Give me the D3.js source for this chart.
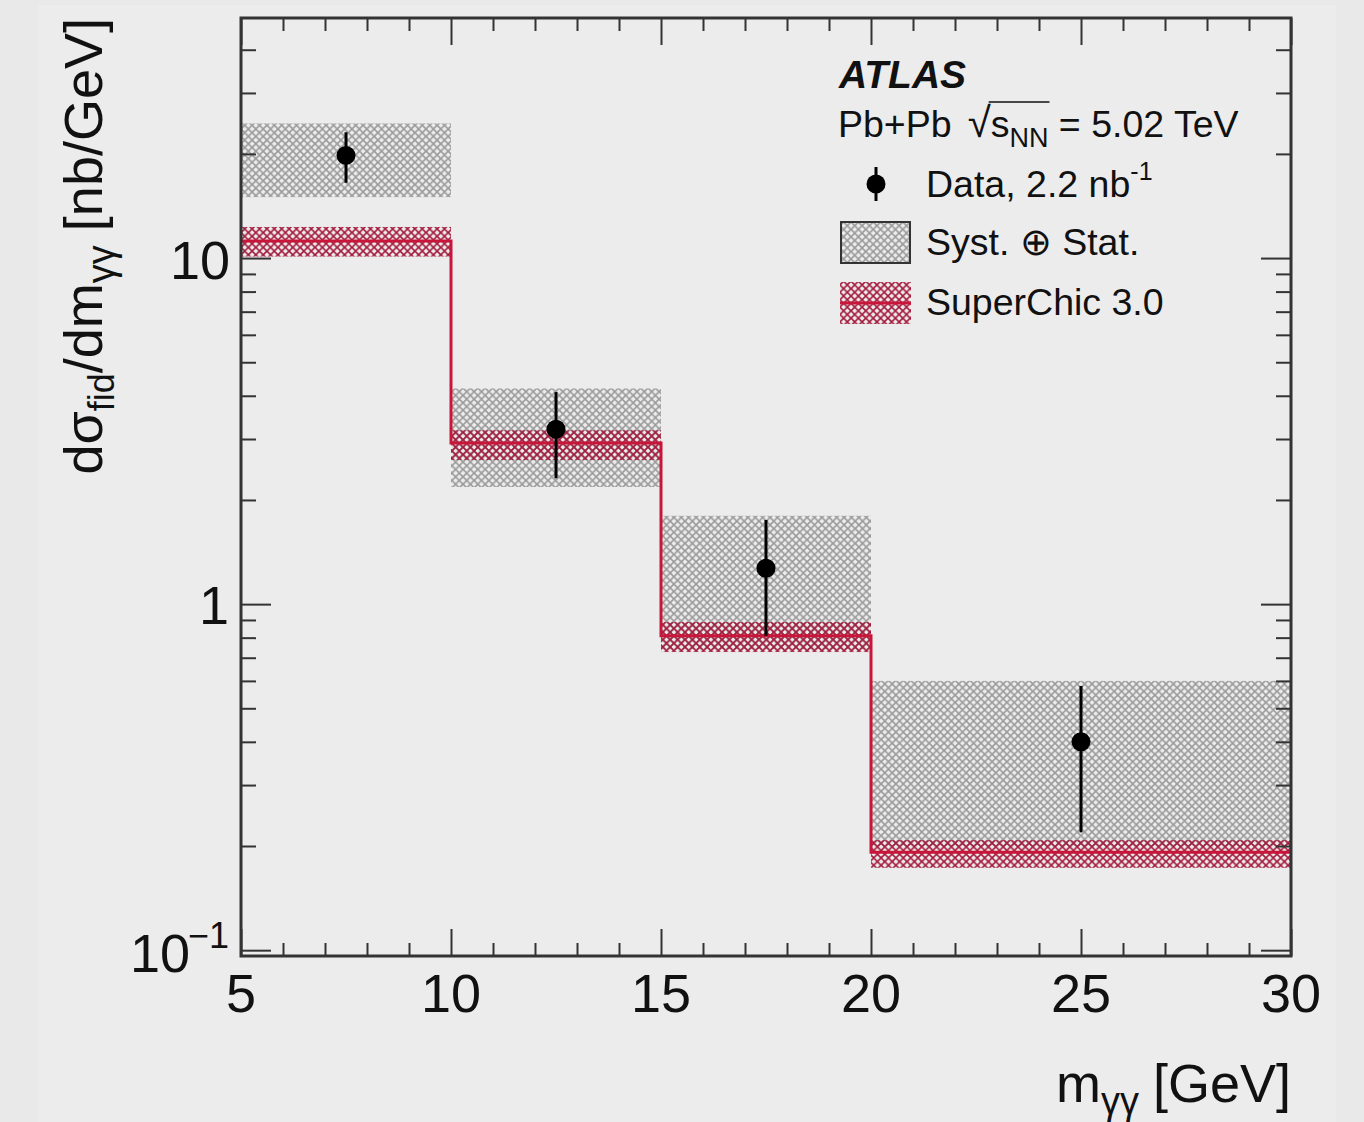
<!DOCTYPE html>
<html>
<head>
<meta charset="utf-8">
<script src="https://cdn.jsdelivr.net/npm/d3@7"></script>
<style>
  body { margin: 0; background: #eaeaea; }
  svg { display: block; font-family: "Liberation Sans", Arial, Helvetica, sans-serif; }
</style>
</head>
<body>
<script>
// bins of m_yy [GeV]
var binLo = [5, 10, 15, 20];
var binHi = [10, 15, 20, 30];

// measured cross section [nb/GeV]
var dataX  = [7.5, 12.5, 17.5, 25];
var dataY  = [19.8, 3.2, 1.27, 0.40];
var statLo = [16.5, 2.31, 0.81, 0.219];
var statHi = [23.1, 4.1, 1.75, 0.58];
// syst (+) stat band
var systLo = [15.0, 2.18, 0.74, 0.20];
var systHi = [24.5, 4.2, 1.80, 0.60];

// SuperChic 3.0 prediction
var scY  = [11.2, 2.92, 0.81, 0.192];
var scLo = [10.1, 2.61, 0.727, 0.173];
var scHi = [12.3, 3.18, 0.887, 0.208];

var xTicks = [5, 10, 15, 20, 25, 30];
var yTicks = [0.1, 1, 10];

var W = 1364, H = 1122;
var margin = {top: 18, right: 73, bottom: 166, left: 241},
    width = W - margin.left - margin.right,
    height = H - margin.top - margin.bottom;

var x = d3.scaleLinear().domain([5, 30]).range([0, width]);
var y = d3.scaleLog().domain([0.0962, 49.4]).range([height, 0]);

var svg = d3.select("body").append("svg")
    .attr("width", W)
    .attr("height", H);

svg.append("rect").attr("width", W).attr("height", H).attr("fill", "#e9e9e9");
svg.append("rect").attr("x", 38).attr("y", 5).attr("width", 1298).attr("height", H - 5).attr("fill", "#ececec");

// hatch patterns
var defs = svg.append("defs");
function hatch(id, color, sw) {
  var p = defs.append("pattern").attr("id", id)
      .attr("patternUnits", "userSpaceOnUse")
      .attr("width", 7.4).attr("height", 7.4);
  p.append("path").attr("d", "M-1,-1L8.4,8.4M8.4,-1L-1,8.4")
      .attr("stroke", color).attr("stroke-width", sw).attr("fill", "none");
}
hatch("grayHatch", "#9a9a9a", 1.6);
hatch("redHatch", "#a31a3c", 1.6);

var g = svg.append("g")
    .attr("transform", "translate(" + margin.left + "," + margin.top + ")");

// syst bands
g.selectAll(".syst").data(binLo).enter().append("rect")
    .attr("x", function(d, i) { return x(binLo[i]); })
    .attr("width", function(d, i) { return x(binHi[i]) - x(binLo[i]); })
    .attr("y", function(d, i) { return y(systHi[i]); })
    .attr("height", function(d, i) { return y(systLo[i]) - y(systHi[i]); })
    .attr("fill", "url(#grayHatch)");

// SuperChic bands
g.selectAll(".sc").data(binLo).enter().append("rect")
    .attr("x", function(d, i) { return x(binLo[i]); })
    .attr("width", function(d, i) { return x(binHi[i]) - x(binLo[i]); })
    .attr("y", function(d, i) { return y(scHi[i]); })
    .attr("height", function(d, i) { return y(scLo[i]) - y(scHi[i]); })
    .attr("fill", "url(#redHatch)");

// SuperChic step line
var steps = [];
binLo.forEach(function(d, i) {
  steps.push([binLo[i], scY[i]]);
  steps.push([binHi[i], scY[i]]);
});
g.append("path")
    .datum(steps)
    .attr("fill", "none")
    .attr("stroke", "#c8163a")
    .attr("stroke-width", 3)
    .attr("d", d3.line().x(function(d) { return x(d[0]); }).y(function(d) { return y(d[1]); }));

// data points
g.selectAll(".err").data(dataX).enter().append("line")
    .attr("x1", function(d) { return x(d); })
    .attr("x2", function(d) { return x(d); })
    .attr("y1", function(d, i) { return y(statHi[i]); })
    .attr("y2", function(d, i) { return y(statLo[i]); })
    .attr("stroke", "#000").attr("stroke-width", 3);
g.selectAll(".dot").data(dataX).enter().append("circle")
    .attr("cx", function(d) { return x(d); })
    .attr("cy", function(d, i) { return y(dataY[i]); })
    .attr("r", 9.5)
    .attr("fill", "#000");

// axes
var axStyle = function(sel) {
  sel.select(".domain").remove();
  sel.selectAll("line").attr("stroke", "#333").attr("stroke-width", 2);
};
var xMinor = d3.range(5, 31, 1).filter(function(v) { return v % 5 !== 0; });
var yMinor = [];
[0.1, 1, 10].forEach(function(dec) {
  for (var k = 2; k <= 9; k++) { if (k * dec < 49.4) yMinor.push(k * dec); }
});

g.append("g").attr("transform", "translate(0," + height + ")")
    .call(d3.axisTop(x).tickValues(xTicks).tickSize(27).tickFormat("")).call(axStyle);
g.append("g").attr("transform", "translate(0," + height + ")")
    .call(d3.axisTop(x).tickValues(xMinor).tickSize(13).tickFormat("")).call(axStyle);
g.append("g")
    .call(d3.axisBottom(x).tickValues(xTicks).tickSize(27).tickFormat("")).call(axStyle);
g.append("g")
    .call(d3.axisBottom(x).tickValues(xMinor).tickSize(13).tickFormat("")).call(axStyle);

g.append("g")
    .call(d3.axisRight(y).tickValues(yTicks).tickSize(30).tickFormat("")).call(axStyle);
g.append("g")
    .call(d3.axisRight(y).tickValues(yMinor).tickSize(15).tickFormat("")).call(axStyle);
g.append("g").attr("transform", "translate(" + width + ",0)")
    .call(d3.axisLeft(y).tickValues(yTicks).tickSize(30).tickFormat("")).call(axStyle);
g.append("g").attr("transform", "translate(" + width + ",0)")
    .call(d3.axisLeft(y).tickValues(yMinor).tickSize(15).tickFormat("")).call(axStyle);

// frame
g.append("rect")
    .attr("width", width).attr("height", height)
    .attr("fill", "none").attr("stroke", "#333").attr("stroke-width", 3);

// tick labels
g.selectAll(".xlab").data(xTicks).enter().append("text")
    .attr("x", function(d) { return x(d); })
    .attr("y", height + 56)
    .attr("text-anchor", "middle")
    .attr("font-size", 54)
    .attr("fill", "#111")
    .text(function(d) { return d; });

g.append("text").attr("x", -11).attr("y", y(10) + 21)
    .attr("text-anchor", "end").attr("font-size", 54).attr("fill", "#111").text("10");
g.append("text").attr("x", -12).attr("y", y(1) + 20)
    .attr("text-anchor", "end").attr("font-size", 54).attr("fill", "#111").text("1");
var tm = g.append("text").attr("x", -12).attr("y", y(0.1) + 22)
    .attr("text-anchor", "end").attr("font-size", 54).attr("fill", "#111");
tm.append("tspan").text("10");
tm.append("tspan").attr("font-size", 36).attr("dy", -24).attr("dx", -2).text("\u22121");

// axis titles
var xt = svg.append("text")
    .attr("x", margin.left + width).attr("y", 1102)
    .attr("text-anchor", "end").attr("font-size", 54).attr("fill", "#111");
xt.append("tspan").text("m");
xt.append("tspan").attr("font-size", 38).attr("dy", 12).text("\u03b3\u03b3");
xt.append("tspan").attr("dy", -12).attr("dx", 14).text("[GeV]");

var yt = svg.append("text")
    .attr("transform", "translate(102,18) rotate(-90)")
    .attr("text-anchor", "end").attr("font-size", 54).attr("fill", "#111");
yt.append("tspan").text("d\u03c3");
yt.append("tspan").attr("font-size", 36).attr("dy", 12).text("fid");
yt.append("tspan").attr("dy", -12).text("/dm");
yt.append("tspan").attr("font-size", 38).attr("dy", 12).text("\u03b3\u03b3");
yt.append("tspan").attr("dy", -12).attr("dx", 14).text("[nb/GeV]");

// labels and legend
svg.append("text").attr("x", 839).attr("y", 88)
    .attr("font-size", 39).attr("font-weight", "bold").attr("font-style", "italic")
    .attr("fill", "#111").text("ATLAS");

var en = svg.append("text").attr("x", 838).attr("y", 137)
    .attr("font-size", 37.5).attr("fill", "#111");
en.append("tspan").text("Pb+Pb");
en.append("tspan").attr("font-size", 42).attr("dx", 16).text("\u221a");
var sPart = en.append("tspan").text("s");
var nnPart = en.append("tspan").attr("font-size", 27).attr("dy", 10).text("NN");
en.append("tspan").attr("dy", -10).text(" = 5.02 TeV");
var b1 = sPart.node().getBBox(), b2 = nnPart.node().getBBox();
svg.append("line")
    .attr("x1", b1.x - 2).attr("x2", b2.x + b2.width + 1)
    .attr("y1", 102).attr("y2", 102)
    .attr("stroke", "#111").attr("stroke-width", 1.5);

// legend: data
svg.append("line").attr("x1", 876).attr("x2", 876).attr("y1", 167).attr("y2", 201)
    .attr("stroke", "#000").attr("stroke-width", 3);
svg.append("circle").attr("cx", 876).attr("cy", 184).attr("r", 9.5).attr("fill", "#000");
var dl = svg.append("text").attr("x", 926).attr("y", 197).attr("font-size", 37.5).attr("fill", "#111");
dl.append("tspan").text("Data, 2.2 nb");
dl.append("tspan").attr("font-size", 25).attr("dy", -17).text("-1");

// legend: syst band
svg.append("rect").attr("x", 841).attr("y", 222).attr("width", 69).attr("height", 41)
    .attr("fill", "url(#grayHatch)").attr("stroke", "#333").attr("stroke-width", 2);
svg.append("text").attr("x", 926).attr("y", 255).attr("font-size", 37.5).attr("fill", "#111")
    .text("Syst. \u2295 Stat.");

// legend: SuperChic
svg.append("rect").attr("x", 840).attr("y", 282).attr("width", 71).attr("height", 42)
    .attr("fill", "url(#redHatch)");
svg.append("line").attr("x1", 840).attr("x2", 911).attr("y1", 303).attr("y2", 303)
    .attr("stroke", "#c8163a").attr("stroke-width", 3);
svg.append("text").attr("x", 926).attr("y", 315).attr("font-size", 37.5).attr("fill", "#111")
    .text("SuperChic 3.0");
</script>
</body>
</html>
